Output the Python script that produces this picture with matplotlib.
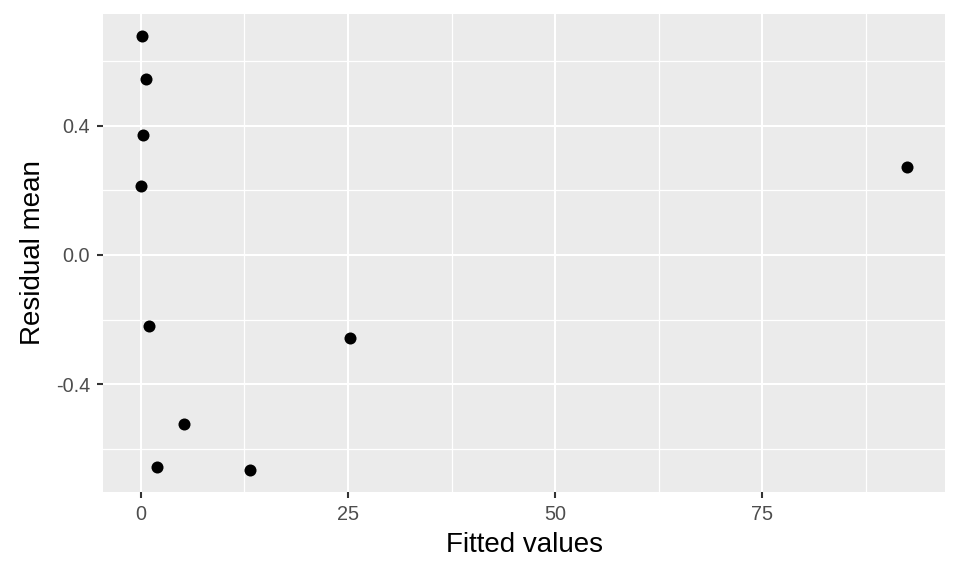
import matplotlib
matplotlib.use("Agg")
import numpy as np
from matplotlib import pyplot as plt

# data
fitted = [0.12, 0.6, 0.28, 0.08, 1.05, 5.19, 1.93, 13.2, 25.2, 92.4]
resid = [0.679, 0.546, 0.372, 0.214, -0.220, -0.524, -0.657, -0.667, -0.257, 0.273]

x_ticks = [0, 25, 50, 75]
y_ticks = [-0.4, 0.0, 0.4]
y_labels = ["-0.4", "0.0", "0.4"]

plt.rcParams['font.family'] = ['Liberation Sans', 'DejaVu Sans']

fig = plt.figure(figsize=(9.6, 5.76), dpi=100)
ax = fig.add_axes([103 / 960, 1 - 492 / 576, (945 - 103) / 960, (492 - 14) / 576])

ax.set_facecolor("#EBEBEB")
for s in ax.spines.values():
    s.set_visible(False)

# ggplot style 5% expansion
x = np.array(fitted)
y = np.array(resid)
xr = x.max() - x.min()
yr = y.max() - y.min()
ax.set_xlim(x.min() - 0.05 * xr, x.max() + 0.05 * xr)
ax.set_ylim(y.min() - 0.05 * yr, y.max() + 0.05 * yr)

ax.set_xticks(x_ticks)
ax.set_yticks(y_ticks)
ax.set_yticklabels(y_labels)
ax.set_xticks([12.5, 37.5, 62.5, 87.5], minor=True)
ax.set_yticks([-0.6, -0.2, 0.2, 0.6], minor=True)

ax.grid(which="major", color="white", linewidth=1.5)
ax.grid(which="minor", color="white", linewidth=0.9)
ax.set_axisbelow(True)

ax.tick_params(which="major", length=4.3, width=1.5, color="#333333",
               labelcolor="#4D4D4D", labelsize=14.3, pad=5)
ax.tick_params(which="minor", length=0)

ax.scatter(x, y, s=75, color="black", zorder=3, linewidths=0)

ax.set_xlabel("Fitted values", fontsize=20, labelpad=6)
ax.set_ylabel("Residual mean", fontsize=20, labelpad=7)

plt.savefig("out.png", dpi=100)
